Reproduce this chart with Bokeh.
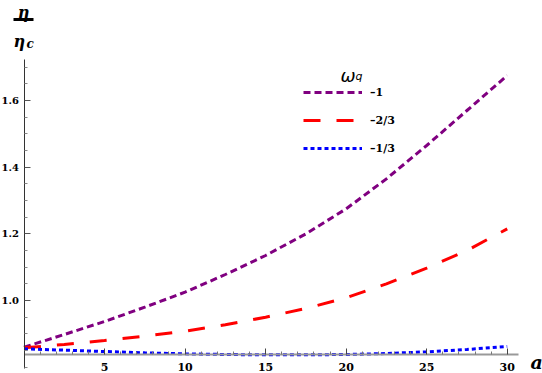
from bokeh.plotting import figure
from bokeh.models import (Range1d, FixedTicker, Legend, LegendItem, Label, BoxAnnotation,
                          PrintfTickFormatter)
from bokeh.embed import file_html
from bokeh.resources import INLINE

# ---- data ----
a = [0, 2.5, 5, 7.5, 10, 12.5, 15, 17.5, 20, 22.5, 25, 27.5, 30]
eta_w_m1 = [0.860, 0.898, 0.937, 0.980, 1.025, 1.078, 1.135, 1.200, 1.275, 1.365, 1.465, 1.570, 1.675]
eta_w_m23 = [0.858, 0.868, 0.880, 0.893, 0.908, 0.927, 0.950, 0.976, 1.008, 1.050, 1.097, 1.150, 1.215]
eta_w_m13 = [0.855, 0.851, 0.847, 0.843, 0.840, 0.838, 0.837, 0.837, 0.838, 0.841, 0.846, 0.853, 0.862]
legend_labels = ["\u20131", "\u20132/3", "\u20131/3"]
x_major = [5, 10, 15, 20, 25, 30]
x_minor = [i for i in range(1, 31) if i % 5 != 0]
y_major = [1.0, 1.2, 1.4, 1.6]
y_minor = [0.8, 0.85, 0.9, 0.95, 1.05, 1.1, 1.15, 1.25, 1.3, 1.35, 1.45, 1.5, 1.55, 1.65, 1.7]

W, H = 542, 373
p = figure(width=W, height=H, output_backend="svg", toolbar_location=None,
           x_range=Range1d(-1.459, 32.19), y_range=Range1d(0.781, 1.9),
           min_border_left=0, min_border_right=0, min_border_top=0, min_border_bottom=0)
p.outline_line_color = None
p.grid.visible = False
p.background_fill_color = "white"
p.border_fill_color = "white"

serif = "DejaVu Serif"

xa = p.xaxis[0]
xa.fixed_location = 0.838
xa.bounds = (0, 30.7)
xa.ticker = FixedTicker(ticks=x_major, minor_ticks=x_minor)
xa.axis_line_color = "#999999"
xa.axis_line_width = 2
xa.major_tick_in = 6
xa.major_tick_out = 0
xa.minor_tick_in = 3
xa.minor_tick_out = 0
xa.major_tick_line_color = "#444444"
xa.minor_tick_line_color = "#777777"
xa.major_label_standoff = 8
xa.major_label_text_font = serif
xa.major_label_text_font_style = "bold"
xa.major_label_text_font_size = "11px"
xa.major_label_text_color = "black"

ya = p.yaxis[0]
ya.fixed_location = 0
ya.bounds = (0.796, 1.723)
ya.ticker = FixedTicker(ticks=y_major, minor_ticks=y_minor)
ya.formatter = PrintfTickFormatter(format="%.1f")
ya.axis_line_color = "#333333"
ya.axis_line_width = 1
ya.major_tick_in = 6
ya.major_tick_out = 0
ya.minor_tick_in = 3
ya.minor_tick_out = 0
ya.major_tick_line_color = "#555555"
ya.minor_tick_line_color = "#888888"
ya.major_label_standoff = 5
ya.major_label_text_font = serif
ya.major_label_text_font_style = "bold"
ya.major_label_text_font_size = "10px"
ya.major_label_text_color = "black"

r1 = p.line(a, eta_w_m1, line_color="#800080", line_width=3, line_dash="7 4")
r2 = p.line(a, eta_w_m23, line_color="#FF0000", line_width=3, line_dash="17 16")
r3 = p.line(a, eta_w_m13, line_color="#0000FF", line_width=3, line_dash="4 3")

legend = Legend(items=[LegendItem(label=legend_labels[0], renderers=[r1]),
                       LegendItem(label=legend_labels[1], renderers=[r2]),
                       LegendItem(label=legend_labels[2], renderers=[r3])],
                location=(303, 215), padding=0, margin=0, spacing=8,
                glyph_width=59, glyph_height=20, label_height=20, label_standoff=8,
                border_line_alpha=0, background_fill_alpha=0,
                label_text_font=serif, label_text_font_style="bold",
                label_text_font_size="11px", label_text_color="black")
p.add_layout(legend)

def lab(x, y, text, size, font=serif, style="bold italic", align="left"):
    # x, y given in canvas pixels from the top-left corner
    p.add_layout(Label(x=x, y=H - y, x_units="screen", y_units="screen", text=text,
                       text_font=font, text_font_style=style, text_font_size=size,
                       text_baseline="alphabetic", text_align=align, text_color="black"))

# legend title omega_q
lab(340, 75, "\u03c9", "18px", font="DejaVu Sans", style="italic")
lab(355, 76, "q", "11px", font="DejaVu Sans", style="italic")

# y label eta / eta_c
lab(23, 12, "\u03b7", "16px", align="center")
p.add_layout(BoxAnnotation(left=13, right=33, bottom=H - 20.5, top=H - 17.5,
                           left_units="screen", right_units="screen",
                           bottom_units="screen", top_units="screen",
                           fill_color="black", fill_alpha=1, line_color=None))
lab(13, 41, "\u03b7", "16px")
lab(26, 43, "c", "12px")

# x label a
lab(530, 361, "a", "19px")

open("out.html", "w").write(file_html(p, INLINE))
